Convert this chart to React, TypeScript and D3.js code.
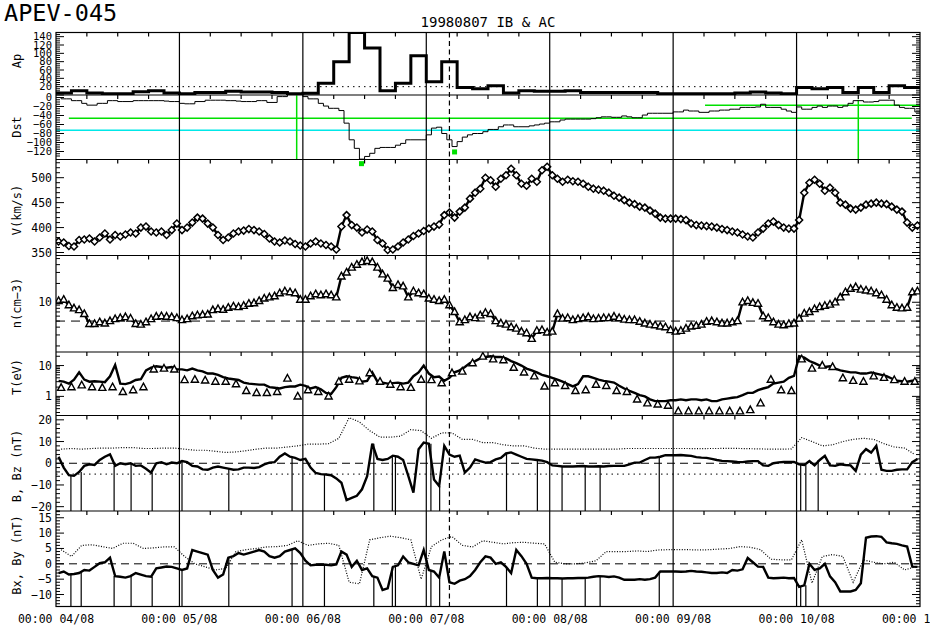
import React from "react";
import * as d3 from "d3";

// ---------------- data (hours from 04/08 00:00) ----------------
const dayLabels = ["00:00 04/08", "00:00 05/08", "00:00 06/08", "00:00 07/08", "00:00 08/08", "00:00 09/08", "00:00 10/08", "00:00 11/08"];

// Ap, 3-hour values
const apValues = [
  5, 10, 5, 3, 3, 8, 10, 5,
  3, 6, 6, 9, 7, 7, 6, 3,
  4, 28, 80, 150, 113, 10, 28, 94,
  32, 80, 18, 15, 22, 5, 10, 9,
  9, 10, 6, 6, 6, 6, 6, 3,
  3, 3, 3, 3, 5, 7, 5, 3,
  18, 15, 18, 6, 18, 6, 22, 18,
];

// Dst, hourly
const dstValues = [
  0, -3, -3, -7, -7, -13, -17, -17, -13, -13, -7, -7, -9, -9, -9, -7, -7, -7, -7, -7, -7, -8, -9, -9,
  -13, -14, -14, -9, -9, -6, -6, -6, -6, -7, -7, -8, -9, -9, -9, -7, -7, -11, -11, 2, 2, 7, 7, 7,
  2, -3, -3, -13, -19, -24, -24, -29, -57, -94, -113, -137, -131, -124, -113, -111, -111, -111, -106, -102, -94, -94, -94, -94,
  -83, -68, -66, -80, -94, -109, -98, -88, -83, -80, -80, -76, -71, -71, -65, -61, -61, -65, -65, -65, -63, -61, -59, -57,
  -54, -54, -50, -48, -48, -48, -48, -48, -47, -45, -43, -43, -44, -44, -41, -43, -45, -45, -39, -35, -35, -35, -35, -35,
  -32, -32, -28, -30, -30, -33, -33, -30, -30, -28, -28, -26, -26, -22, -22, -22, -21, -15, -22, -22, -22, -26, -30, -33,
  -21, -26, -26, -22, -19, -22, -19, -19, -22, -19, -13, -7, -7, -10, -10, -9, -6, -6, -6, -17, -22, -24, -24, -32,
];
const dstMinMarks = [ { t: 59.4, v: -147 }, { t: 77.5, v: -121 } ];
const greenLevels = [ { v: -46, t0: 2.5, t1: 166.4 }, { v: -17, t0: 126.2, t1: 168 } ];
const cyanLevels = [ { v: -73, t0: 0, t1: 168 } ];
const greenMarkers = [ { t: 46.8, v0: 5, v1: -137 }, { t: 156.0, v0: -5, v1: -137 } ];
const eventHour = 76.5;

// Solar wind speed, hourly
const vValues = [
  372, 370, 363, 362, 375, 376, 378, 372, 380, 388, 376, 385, 382, 386, 390, 388, 400, 402, 392, 390, 392, 385, 395, 408,
  395, 400, 410, 420, 418, 408, 400, 385, 375, 380, 388, 392, 394, 397, 395, 392, 387, 378, 372, 370, 374, 372, 367, 364,
  362, 368, 372, 368, 365, 362, 356, 402, 425, 405, 400, 390, 396, 392, 375, 368, 355, 356, 362, 370, 376, 383, 388, 393,
  398, 402, 406, 425, 430, 420, 432, 440, 458, 470, 478, 500, 495, 482, 498, 505, 518, 505, 488, 484, 498, 492, 515, 522,
  505, 498, 492, 496, 493, 492, 488, 482, 478, 476, 474, 470, 464, 460, 455, 450, 447, 442, 440, 434, 428, 420, 418, 418,
  418, 417, 415, 408, 405, 404, 403, 402, 400, 397, 395, 392, 390, 386, 382, 380, 390, 398, 408, 412, 405, 400, 398, 398,
  415, 470, 490, 496, 488, 474, 480, 470, 450, 446, 438, 436, 440, 446, 448, 450, 448, 447, 442, 436, 432, 410, 400, 404,
];

// Density, hourly
const nValues = [
  10.5, 11, 9, 8, 7.5, 6.5, 4.5, 4.5, 4.8, 4.6, 5, 5.4, 5.6, 5.8, 5.5, 4.5, 4.4, 4.8, 5.4, 5.9, 6, 5.9, 5.8, 5.6,
  5.2, 5.4, 6, 6.2, 6.3, 6.4, 7.5, 7.8, 7.6, 8.2, 8.6, 8.4, 8.8, 9.5, 9.7, 10.5, 11.5, 12, 12.5, 14, 15, 14.5, 14, 11,
  11, 12.5, 13.5, 13, 13.5, 13, 12, 26, 30, 36, 40, 44, 46, 44, 36, 28, 24, 17, 19, 18, 12, 15, 14, 13.5,
  11.5, 11, 10.5, 11, 9, 7, 4.8, 5.2, 5.8, 5.6, 6.2, 6.8, 6.5, 5, 4.6, 4.4, 4, 3.8, 3.4, 3.2, 2.6, 3.5, 3.6, 3.3,
  3.4, 6.5, 5.5, 5.6, 5.2, 5.4, 5.6, 5.8, 5.4, 5.5, 5.6, 5.6, 5.9, 5.6, 5.3, 5.2, 5.2, 4.9, 4.6, 4.4, 4.3, 4.1, 4, 3.6,
  3.4, 3.5, 3.8, 4.1, 4.2, 4.4, 4.9, 5, 4.8, 4.6, 4.6, 4.8, 5, 10, 10.5, 9.8, 9.5, 6, 5.6, 4.8, 4.4, 4.3, 4.5, 4.6,
  5.5, 6.6, 7, 7.8, 8.4, 8.8, 9.2, 10, 12, 14.5, 16.5, 17.5, 16, 15.5, 15, 14, 13, 11, 9, 8.2, 8, 8.2, 14.5, 15,
];

// Temperature, hourly line
const tValues = [
  3.2, 3.0, 2.6, 3.5, 6.0, 3.5, 3.0, 3.1, 3.0, 2.9, 4.5, 10.5, 2.6, 2.5, 2.8, 3.4, 3.6, 7.0, 8.5, 9.5, 9.0, 8.5, 9.0, 7.5,
  7.5, 7.0, 8.0, 7.0, 6.5, 5.5, 5.5, 5.0, 4.2, 3.8, 3.6, 3.4, 2.8, 2.6, 2.5, 2.4, 2.4, 2.0, 1.9, 1.8, 2.0, 2.1, 2.1, 2.4,
  2.2, 1.8, 2.0, 1.7, 1.3, 1.2, 2.0, 4.0, 4.5, 4.2, 4.0, 3.0, 3.2, 6.0, 3.0, 2.8, 2.6, 2.7, 2.8, 2.6, 2.8, 4.5, 6.0, 10,
  5.5, 4.2, 4.4, 3.2, 4.0, 6.0, 7.0, 9.0, 12, 14, 17, 19, 20, 19, 19, 17, 14, 12, 10, 8.0, 7.0, 6.0, 5.0, 4.5,
  4.0, 3.5, 3.0, 2.5, 2.1, 2.5, 4.5, 4.5, 4.0, 3.5, 3.2, 3.0, 2.8, 2.2, 1.8, 1.5, 1.3, 1.1, 1.0, 0.8, 0.7, 0.7, 0.7, 0.75,
  0.75, 0.8, 0.75, 0.8, 0.8, 0.75, 0.8, 0.7, 0.7, 0.8, 0.85, 0.9, 0.95, 1.1, 1.3, 1.3, 1.6, 1.8, 2.0, 2.6, 2.8, 3.0, 4.0, 4.6,
  20, 18, 14, 12, 10, 9, 9.5, 8, 7, 6.5, 6, 6, 5.5, 5.5, 6, 5.5, 5, 4.5, 3.8, 3.2, 3.1, 3.0, 3.2, 3.3,
];
// Temperature markers, 2-hourly
const tMarks = [
  1.9, 2.0, 2.3, 2.0, 1.9, 2.0, 1.4, 1.6, 2.0, 7.5, 8.0, 7.5,
  3.4, 3.5, 3.3, 3.0, 3.0, 2.5, 1.5, 1.3, 1.3, 1.4, 3.8, 1.0,
  1.6, 1.4, 1.0, 3.0, 3.5, 3.1, 5.7, 3.0, 2.4, 2.0, 1.9, 3.5,
  3.4, 2.7, 5.7, 6.4, 12, 19.6, 16, 15, 8.5, 6, 4.5, 2.1,
  2.7, 2.2, 1.5, 1.6, 2.4, 2.2, 1.5, 1.4, 0.8, 0.6, 0.55, 0.5,
  0.33, 0.33, 0.33, 0.33, 0.33, 0.33, 0.33, 0.36, 0.6, 3.5, 1.6, 1.5,
  16, 8, 10, 9, 3.9, 3.2, 3.0, 4.5, 4, 3.4, 3.0, 3.0,
];

// |B|, 2-hourly
const bMag = [
  6.5, 6.8, 6.5, 6.8, 7.0, 7.0, 7.2, 7.2, 6.8, 6.8, 7.0, 7.0,
  6.5, 6.0, 6.0, 5.5, 5.0, 5.2, 5.8, 6.5, 7.0, 7.0, 7.5, 8.0,
  8.8, 8.8, 9.0, 11.5, 21, 19, 15, 12, 12, 12.5, 15.5, 15,
  11.5, 14, 14, 11, 11, 9.5, 9.5, 8.5, 8, 8, 7, 6.5,
  6.5, 6.5, 6.5, 6.5, 6.5, 6.5, 6.5, 6.8, 6.8, 6.8, 6.8, 6.8,
  6.8, 6.8, 6.7, 6.8, 6.8, 6.9, 6.8, 6.7, 6.6, 6.5, 6.5, 6.6,
  11.8, 10, 8, 8.5, 10, 11, 11.5, 11, 9, 7.5, 7, 4,
];
// Bz, hourly
const bzValues = [
  3.0, -2.0, -5.5, -5.8, -4.0, -1.2, -0.5, -0.8, 1.5, 3.0, 4.1, -1.2, 0, -0.5, 0, -1.2, -1.0, -2.5, -4.3, 0, 0.5, -0.5, 0.3, 0.0,
  1.0, 0.5, -1.2, -1.5, -2.8, -3.0, -2.0, -1.5, -2.0, -2.5, -3.0, -2.8, -2.0, -2.0, -2.2, -1.8, -0.5, 0.3, 0.5, 3.0, 4.5, 3.0, 2.5, 1.5,
  2.0, -2.0, -4.5, -5.0, -5.2, -5.5, -7.0, -9.0, -17, -16, -15, -12, -6, 9.0, 2.0, 1.5, 2.0, 3.5, 3.0, 1.5, -5.8, -13.5, 6.5, 9.5,
  9.0, -7.5, -10.5, 8.0, 4.0, 3.0, 3.5, -4.3, -2.0, 1.8, 1.0, 0.3, 0.5, 1.8, 2.5, 4.5, 5.0, 4.0, 3.0, 2.0, 1.8, 1.5, 1.2, 0.5,
  -1.0, -1.2, -1.5, -1.5, -1.5, -1.4, -1.3, -1.5, -1.5, -1.4, -1.5, -1.3, -1.2, -1.2, -1.2, -0.5, 0.3, 0.3, 1.5, 2.6, 2.6, 3.0, 3.7, 3.7,
  3.7, 3.8, 3.6, 3.4, 2.8, 2.6, 2.5, 2.0, 1.5, 1.1, 1.0, 0.8, 0.6, 0.5, 0.8, 1.0, 1.0, -1.0, -1.2, 0.0, 0.4, 0.6, 0.6, 0.6,
  -0.5, -0.8, 1.0, -1.0, 1.5, 3.4, -1.0, -1.2, -0.5, -0.8, -1.0, -3.5, 4.0, 6.5, 4.9, 8.0, -3.0, -3.5, -3.5, -3.0, -2.8, -2.8, 0.5, 2.0,
];
// Bx, hourly
const bxValues = [
  -3.0, -2.5, -3.5, -3.3, -3.0, -2.0, -2.2, -1.0, 0.2, 0.5, 2.0, -4.0, -4.2, -4.5, -4.0, -3.0, -3.5, -4.0, -4.2, -1.5, -1.2, -0.9, -1.0, -1.5,
  -2.0, -1.5, 4.5, 4.0, 3.5, 3.0, -2.0, -4.5, -3.5, 2.0, 2.5, 3.5, 3.0, 3.5, 4.0, 4.5, 4.0, 2.5, 2.0, 2.5, 4.0, 4.5, 5.0, 3.5,
  1.0, -0.5, -0.3, -0.2, -0.3, -0.5, -0.2, 4.0, 3.0, -1.0, 1.0, -2.0, -1.5, -4.0, -4.5, -8.5, -8.0, -1.0, -0.5, 2.4, 0.5, 0.0, -0.5, 4.5,
  -2.0, -2.5, -4.5, 4.0, -6.0, -6.5, -5.5, -5.0, -4.0, -2.0, 0.5, 2.4, 2.0, 0.0, 0.5, -1.0, -3.0, 4.5, 2.5, 0.0, -4.5, -4.7, -4.7, -4.6,
  -4.7, -4.7, -4.8, -4.7, -4.7, -4.6, -4.6, -4.5, -4.2, -4.0, -4.1, -4.3, -4.1, -4.5, -5.2, -5.2, -5.2, -5.0, -5.2, -5.0, -4.5, -2.5, -2.5, -2.5,
  -2.5, -2.6, -2.5, -2.3, -2.5, -2.6, -2.8, -3.0, -3.0, -2.8, -3.0, -2.0, -2.2, -1.8, 1.9, 0.5, -0.9, -1.0, -4.5, -4.7, -4.6, -4.5, -4.7, -4.6,
  -7.5, -7.0, 0.0, -2.0, -1.5, 0.0, -4.1, -6.0, -9.0, -9.0, -9.0, -8.5, -6.3, 8.5, 8.9, 9.0, 8.8, 7.0, 6.7, 6.5, 6.0, 5.6, -0.9, -1.0,
];
// By, 2-hourly
const byValues = [
  4.6, 2.4, 6.0, 6.2, 5.6, 5.0, 6.7, 6.7, 5.0, 5.2, 5.5, 5.5,
  2.4, 0, -1, -2.0, -1.5, 4.0, 4.6, 5.0, 5.5, 5.6, 6.0, 7.5,
  6.0, 6.5, 6.7, 6.0, -6.0, -6.5, 7.8, 8.5, 9.0, 8.5, 7.8, -5.0,
  5.6, 7.8, 8.9, 6.0, 5.5, 7.5, 7.0, 6.5, 6.9, 7.0, 6.7, 6.5,
  0.5, 0.0, 0.0, 0.3, 1.0, 4.0, 4.0, 4.0, 4.2, 4.0, 4.5, 4.6,
  4.6, 4.6, 4.5, 4.6, 4.8, 5.0, 5.6, 5.4, 4.6, 1.5, 1.3, 1.3,
  7.8, -6.3, 2.4, 3.0, 2.4, -6.0, 1.3, 0.5, 0, 0.5, -2, -1.0,
];
// data gaps (hours) drawn as drops to the panel floor
const gapHours = [2.9, 4.9, 11.3, 14.6, 18.7, 24.5, 33.6, 45.9, 52.2, 61.8, 65.4, 66.0, 72.9, 74.6, 87.6, 93.6, 98.4, 102.9, 105.8, 117.3, 144.8, 145.8, 148.2];

const apTickLabels = [20, 40, 60, 80, 100, 120, 140];
const dstTickLabels = [0, -20, -40, -60, -80, -100, -120];
const vTickLabels = [350, 400, 450, 500];
const nTickLabels = [10];
const tTickLabels = [1, 10];
const bTickLabels = [-20, -10, 0, 10, 20];
const bxyTickLabels = [-10, -5, 0, 5, 10, 15];

// ---------------- layout ----------------
const W = 930, H = 640;
const L = 56, R = 920;
const FONT = "'DejaVu Sans Mono', 'Liberation Mono', monospace";
const P = {
  ap: [32.5, 95], dst: [95, 159.5], v: [159.5, 255.5], n: [255.5, 352],
  t: [352, 415.5], b: [415.5, 511], bxy: [511, 606.5],
};

type Pt = { t: number; v: number };
const hourly = (a: number[], step: number, off: number): Pt[] => a.map((v, i) => ({ t: i * step + off, v }));
const fmt = (v: number) => (v < 0 ? "\u2212" + Math.abs(v) : String(v));

export default function App() {
  const x = d3.scaleLinear().domain([0, 168]).range([L, R]);
  const yAp = d3.scaleLinear().domain([0, 150]).range([95, 32.5]);
  const yDst = d3.scaleLinear().domain([0, -120]).range([97.5, 151.5]);
  const yV = d3.scaleLinear().domain([344, 536.5]).range([255.5, 159.5]);
  const yN = d3.scaleLog().domain([1.6, 56]).range([352, 255.5]);
  const yT = d3.scaleLog().domain([0.24, 27.5]).range([415.5, 352]);
  const yB = d3.scaleLinear().domain([-22, 22]).range([511, 415.5]);
  const yBxy = d3.scaleLinear().domain([-13.9, 17.2]).range([606.5, 511]);

  const mk = (ys: any, curve: any = d3.curveLinear) =>
    d3.line<Pt>().x((d) => x(d.t)).y((d) => ys(d.v)).curve(curve);

  const apPts = [...hourly(apValues, 3, 0), { t: 168, v: apValues[apValues.length - 1] }];
  const dstPts = [...hourly(dstValues, 1, 0), { t: 168, v: dstValues[dstValues.length - 1] }];
  const vPts = hourly(vValues, 1, 0.5);
  const nPts = hourly(nValues, 1, 0.5);
  const tPts = hourly(tValues, 1, 0.5);
  const tmPts = hourly(tMarks, 2, 1);
  const bPts = hourly(bMag, 2, 1);
  const bzPts = hourly(bzValues, 1, 0.5);
  const bxPts = hourly(bxValues, 1, 0.5);
  const byPts = hourly(byValues, 2, 1);

  const diamond = "M0,-3.5L3.5,0L0,3.5L-3.5,0Z";
  const tri = "M0,-4L3.6,2.6L-3.6,2.6Z";

  const ticksY = (ys: any, majors: number[], minors: number[], k: string) => {
    const out: any[] = [];
    majors.forEach((v, i) => {
      const y = ys(v);
      out.push(<line key={k + "M" + i} x1={L} x2={L + 8} y1={y} y2={y} />);
      out.push(<line key={k + "MR" + i} x1={R} x2={R - 8} y1={y} y2={y} />);
    });
    minors.forEach((v, i) => {
      const y = ys(v);
      out.push(<line key={k + "m" + i} x1={L} x2={L + 4} y1={y} y2={y} />);
      out.push(<line key={k + "mR" + i} x1={R} x2={R - 4} y1={y} y2={y} />);
    });
    return out;
  };
  const labelsY = (ys: any, vals: number[], k: string, fs = 11.5) =>
    vals.map((v, i) => (
      <text key={k + i} x={52} y={ys(v) + fs * 0.35} textAnchor="end" fontSize={fs}>{fmt(v)}</text>
    ));

  const logMinors = (lo: number, hi: number) => {
    const r: number[] = [];
    for (let e = -1; e <= 2; e++) for (let m = 1; m < 10; m++) {
      const v = m * Math.pow(10, e);
      if (v >= lo && v <= hi) r.push(v);
    }
    return r;
  };

  const sixH = d3.range(6, 168, 6).filter((h) => h % 24 !== 0);
  const panelTops = [P.ap[0], P.dst[0], P.v[0], P.n[0], P.t[0], P.b[0], P.bxy[0]];
  const panelList = Object.entries(P);

  const nearest = (pts: Pt[], t: number) => pts[Math.max(0, Math.min(pts.length - 1, Math.floor(t)))].v;

  return (
    <svg width={W} height={H} style={{ position: "absolute", left: 0, top: 0, background: "#fff" }} fontFamily={FONT}>
      <defs>
        {panelList.map(([k, [a, b]]) => (
          <clipPath id={"clip-" + k} key={k}>
            <rect x={L} y={a} width={R - L} height={b - a} />
          </clipPath>
        ))}
      </defs>
      <rect x={0} y={0} width={W} height={H} fill="#fff" />

      {/* titles */}
      <text x={4} y={21} fontSize={23.5}>APEV-045</text>
      <text x={488} y={26.5} fontSize={14} textAnchor="middle">19980807 IB &amp; AC</text>

      {/* reference lines */}
      <g fill="none" stroke="#000">
        <line x1={L} x2={R} y1={yAp(20)} y2={yAp(20)} strokeDasharray="1.5 4" />
        <line x1={L} x2={R} y1={yN(5)} y2={yN(5)} strokeDasharray="9 6" />
        <line x1={L} x2={R} y1={yB(0)} y2={yB(0)} strokeDasharray="8 5" />
        <line x1={L} x2={R} y1={yB(-5)} y2={yB(-5)} strokeDasharray="1.5 4" />
        <line x1={L} x2={R} y1={yBxy(0)} y2={yBxy(0)} strokeDasharray="8 5" />
      </g>

      {/* Dst threshold lines */}
      <g clipPath="url(#clip-dst)" strokeWidth={1.5}>
        {greenLevels.map((g, i) => (
          <line key={"g" + i} x1={x(g.t0)} x2={x(g.t1)} y1={yDst(g.v)} y2={yDst(g.v)} stroke="#00e000" />
        ))}
        {cyanLevels.map((g, i) => (
          <line key={"c" + i} x1={x(g.t0)} x2={x(g.t1)} y1={yDst(g.v)} y2={yDst(g.v)} stroke="#00e8e8" />
        ))}
        {greenMarkers.map((g, i) => (
          <line key={"gv" + i} x1={x(g.t)} x2={x(g.t)} y1={yDst(g.v0)} y2={yDst(g.v1)} stroke="#00e000" />
        ))}
      </g>

      {/* Ap */}
      <path d={mk(yAp, d3.curveStepAfter)(apPts) || ""} fill="none" stroke="#000" strokeWidth={3} clipPath="url(#clip-ap)" />
      {/* Dst */}
      <path d={mk(yDst, d3.curveStepAfter)(dstPts) || ""} fill="none" stroke="#000" strokeWidth={1} clipPath="url(#clip-dst)" />
      {dstMinMarks.map((m, i) => (
        <rect key={"dm" + i} x={x(m.t) - 2.5} y={yDst(m.v) - 2.5} width={5} height={5} fill="#00e000" />
      ))}

      {/* V */}
      <g clipPath="url(#clip-v)">
        <path d={mk(yV)(vPts) || ""} fill="none" stroke="#000" strokeWidth={2.4} />
        {vPts.map((d, i) => (
          <path key={"vd" + i} d={diamond} transform={`translate(${x(d.t)},${yV(d.v)})`} fill="#fff" stroke="#000" strokeWidth={1.5} />
        ))}
      </g>
      {/* n */}
      <g clipPath="url(#clip-n)">
        <path d={mk(yN)(nPts) || ""} fill="none" stroke="#000" strokeWidth={2.4} />
        {nPts.map((d, i) => (
          <path key={"nt" + i} d={tri} transform={`translate(${x(d.t)},${yN(d.v)})`} fill="#fff" stroke="#000" strokeWidth={1.4} />
        ))}
      </g>
      {/* T */}
      <g clipPath="url(#clip-t)">
        <path d={mk(yT)(tPts) || ""} fill="none" stroke="#000" strokeWidth={2.4} />
        {tmPts.map((d, i) => (
          <path key={"tt" + i} d={tri} transform={`translate(${x(d.t)},${yT(d.v)})`} fill="#fff" stroke="#000" strokeWidth={1.4} />
        ))}
      </g>
      {/* B, Bz */}
      <g clipPath="url(#clip-b)">
        <path d={mk(yB)(bPts) || ""} fill="none" stroke="#000" strokeWidth={1.2} strokeDasharray="1 1.6" />
        <path d={mk(yB)(bzPts) || ""} fill="none" stroke="#000" strokeWidth={2.4} />
        {gapHours.map((g, i) => (
          <line key={"gb" + i} x1={x(g)} x2={x(g)} y1={yB(nearest(bzPts, g))} y2={P.b[1]} stroke="#000" strokeWidth={1.2} />
        ))}
      </g>
      {/* Bx, By */}
      <g clipPath="url(#clip-bxy)">
        <path d={mk(yBxy)(byPts) || ""} fill="none" stroke="#000" strokeWidth={1.2} strokeDasharray="1 1.6" />
        <path d={mk(yBxy)(bxPts) || ""} fill="none" stroke="#000" strokeWidth={2.4} />
        {gapHours.map((g, i) => (
          <line key={"gx" + i} x1={x(g)} x2={x(g)} y1={yBxy(nearest(bxPts, g))} y2={P.bxy[1]} stroke="#000" strokeWidth={1.2} />
        ))}
      </g>

      {/* frame, separators, day lines, event line */}
      <g stroke="#000" fill="none" strokeWidth={1.2}>
        <rect x={L} y={P.ap[0]} width={R - L} height={P.bxy[1] - P.ap[0]} />
        {panelTops.slice(1).map((y, i) => (
          <line key={"sep" + i} x1={L} x2={R} y1={y} y2={y} />
        ))}
        {d3.range(24, 168, 24).map((h) => (
          <line key={"day" + h} x1={x(h)} x2={x(h)} y1={P.ap[0]} y2={P.bxy[1]} />
        ))}
        <line x1={x(eventHour)} x2={x(eventHour)} y1={P.ap[0]} y2={P.bxy[1]} strokeDasharray="5 3.5" />
        {panelTops.map((y, j) =>
          sixH.map((h) => <line key={"tx" + j + "-" + h} x1={x(h)} x2={x(h)} y1={y} y2={y + 4} />)
        )}
      </g>

      {/* y ticks */}
      <g stroke="#000" strokeWidth={1}>
        {ticksY(yAp, [0, ...apTickLabels], d3.range(5, 150, 5).filter((v) => v % 20 !== 0), "ap")}
        {ticksY(yDst, dstTickLabels, d3.range(-5, -135, -5).filter((v) => v % 20 !== 0), "dst")}
        {ticksY(yV, vTickLabels, d3.range(350, 540, 10).filter((v) => v % 50 !== 0), "v")}
        {ticksY(yN, nTickLabels, logMinors(1.6, 56).filter((v) => v !== 10), "n")}
        {ticksY(yT, tTickLabels, logMinors(0.24, 27.5).filter((v) => v !== 1 && v !== 10), "t")}
        {ticksY(yB, bTickLabels, d3.range(-22, 23, 2).filter((v) => v % 10 !== 0), "b")}
        {ticksY(yBxy, bxyTickLabels, d3.range(-13, 18, 1).filter((v) => v % 5 !== 0), "bxy")}
      </g>

      {/* y labels */}
      <g fill="#000">
        {labelsY(yAp, apTickLabels, "lap", 10.5)}
        {labelsY(yDst, dstTickLabels, "ldst", 10.5)}
        {labelsY(yV, vTickLabels, "lv")}
        {labelsY(yN, nTickLabels, "ln")}
        {labelsY(yT, tTickLabels, "lt")}
        {labelsY(yB, bTickLabels, "lb")}
        {labelsY(yBxy, bxyTickLabels, "lbxy")}
      </g>

      {/* axis titles */}
      <g fontSize={12} textAnchor="middle" fill="#000">
        {[
          ["Ap", 61], ["Dst", 127], ["V(km/s)", 210], ["n(cm\u22123)", 303],
          ["T(eV)", 377], ["B, Bz (nT)", 466], ["Bx, By (nT)", 555],
        ].map(([s, y]) => (
          <text key={s as string} transform={`translate(21,${y}) rotate(-90)`}>{s}</text>
        ))}
      </g>

      {/* x labels */}
      <g fontSize={11.5} textAnchor="middle" fill="#000">
        {dayLabels.map((s, i) => (
          <text key={s} x={x(i * 24)} y={623}>{s}</text>
        ))}
      </g>
    </svg>
  );
}
